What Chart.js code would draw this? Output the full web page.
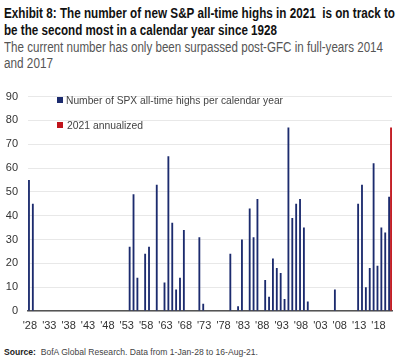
<!DOCTYPE html>
<html>
<head>
<meta charset="utf-8">
<script src="https://cdn.jsdelivr.net/npm/chart.js@4.4.1/dist/chart.umd.min.js"></script>
<style>
  body { margin: 0; background: #fff; width: 400px; height: 361px; position: relative; overflow: hidden;
         font-family: 'Liberation Sans', Arial, sans-serif; }
  .ln { position: absolute; left: 4px; white-space: nowrap; transform-origin: 0 0; }
  .t { font-size: 14px; line-height: 17px; font-weight: bold; color: #111; }
  .s { font-size: 14px; line-height: 17px; color: #555; }
  .lg { font-size: 11.5px; line-height: 14px; color: #444; }
  .sq { position: absolute; width: 6px; height: 6px; }
  .src { font-size: 8.5px; line-height: 10px; color: #444; }
  #wrap { position: absolute; left: 0; top: 80px; }
</style>
</head>
<body>
<div class="ln t" data-w="391" style="top:5px">Exhibit 8: The number of new S&amp;P all-time highs in 2021&nbsp; is on track to</div>
<div class="ln t" data-w="273" style="top:22px">be the second most in a calendar year since 1928</div>
<div class="ln s" data-w="379" style="top:39px">The current number has only been surpassed post-GFC in full-years 2014</div>
<div class="ln s" data-w="49" style="top:55px">and 2017</div>
<div id="wrap"><canvas id="chart" width="400" height="260"></canvas></div>
<div class="sq" style="left:57px;top:97px;background:#1c2b6e"></div>
<div class="ln lg" data-w="217" style="left:66px;top:93px">Number of SPX all-time highs per calendar year</div>
<div class="sq" style="left:57px;top:122px;background:#c0141c"></div>
<div class="ln lg" data-w="76" style="left:67px;top:118px">2021 annualized</div>
<div class="ln src" data-w="254" style="top:347px"><b style="color:#222">Source:</b>&nbsp; BofA Global Research. Data from 1-Jan-28 to 16-Aug-21.</div>
<script>
// squeeze text lines to the condensed widths of the original
document.querySelectorAll("[data-w]").forEach((el) => {
  const w = el.getBoundingClientRect().width;
  el.style.transform = "scaleX(" + (Number(el.dataset.w) / w) + ")";
});

const firstYear = 1928;
const lastYear = 2021;

// new all-time highs per calendar year, 1928..2021
const highs = [
  55, 45, 0, 0, 0, 0, 0, 0, 0, 0,      // 1928-1937
  0, 0, 0, 0, 0, 0, 0, 0, 0, 0,        // 1938-1947
  0, 0, 0, 0, 0, 0, 27, 49, 14, 0,     // 1948-1957
  24, 27, 0, 53, 0, 12, 65, 37, 9, 14, // 1958-1967
  34, 0, 0, 0, 31, 3, 0, 0, 0, 0,      // 1968-1977
  0, 0, 24, 0, 2, 30, 0, 43, 31, 47,   // 1978-1987
  0, 13, 6, 22, 18, 16, 5, 77, 39, 45, // 1988-1997
  47, 35, 4, 0, 0, 0, 0, 0, 0, 9,      // 1998-2007
  0, 0, 0, 0, 0, 45, 53, 10, 18, 62,   // 2008-2017
  19, 35, 33, 48                       // 2018-2021
];
const annualized2021 = 77;

const years = [];
for (let y = firstYear; y <= lastYear; y++) years.push(y);
const annualized = years.map((y) => (y === lastYear ? annualized2021 : null));

const tickFont = { size: 11, family: "'Liberation Sans', Arial, sans-serif" };

const ctx = document.getElementById("chart").getContext("2d");
new Chart(ctx, {
  type: "bar",
  data: {
    labels: years,
    datasets: [
      {
        label: "Number of SPX all-time highs per calendar year",
        data: highs,
        backgroundColor: "#1c2b6e",
        categoryPercentage: 1.0,
        barPercentage: 0.95,
      },
      {
        label: "2021 annualized",
        data: annualized,
        backgroundColor: "#c0141c",
        categoryPercentage: 1.0,
        barPercentage: 0.95,
      },
    ],
  },
  options: {
    responsive: false,
    animation: false,
    layout: { padding: { top: 9, right: 8, left: 0, bottom: 0 } },
    plugins: {
      legend: { display: false },
      tooltip: { enabled: false },
    },
    scales: {
      x: {
        grid: { display: false, drawTicks: false },
        border: { color: "#555", width: 1.5 },
        ticks: {
          autoSkip: false,
          maxRotation: 0,
          padding: 8,
          color: "#333",
          font: tickFont,
          callback: function (value) {
            const y = years[value];
            return (y - firstYear) % 5 === 0 ? "'" + String(y).slice(2) : "";
          },
        },
        afterFit: (scale) => { scale.height = 29; },
      },
      y: {
        min: 0,
        max: 90,
        grid: { color: "#e8e8e8", drawTicks: false },
        border: { display: false },
        ticks: {
          stepSize: 10,
          padding: 10,
          color: "#333",
          font: tickFont,
        },
        afterFit: (scale) => { scale.width = 28; },
      },
    },
  },
});
</script>
</body>
</html>
